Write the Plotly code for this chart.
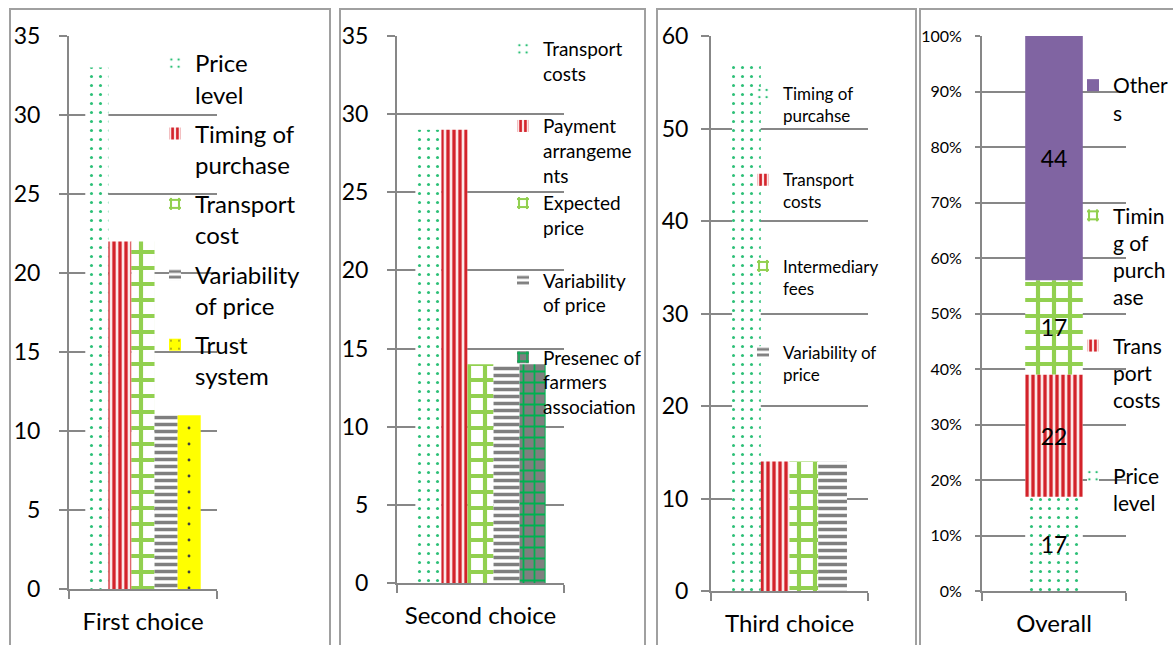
import plotly.graph_objects as go

W, H = 1173, 645

# ---------------- data ----------------
choice_names = ["First choice", "Second choice", "Third choice", "Overall"]

first_labels = ["Price<br>level", "Timing of<br>purchase", "Transport<br>cost",
                "Variability<br>of price", "Trust<br>system"]
first_values = [33, 22, 22, 11, 11]

second_labels = ["Transport<br>costs", "Payment<br>arrangeme<br>nts", "Expected<br>price",
                 "Variability<br>of price", "Presenec of<br>farmers<br>association"]
second_values = [29, 29, 14, 14, 14]

third_labels = ["Timing of<br>purcahse", "Transport<br>costs", "Intermediary<br>fees",
                "Variability of<br>price"]
third_values = [57, 14, 14, 14]

overall_labels = ["Price<br>level", "Trans<br>port<br>costs", "Timin<br>g of<br>purch<br>ase",
                  "Other<br>s"]
overall_values = [17, 22, 17, 44]

y_max = [35, 35, 60, 100]
y_step = [5, 5, 10, 10]

# ---------------- styling ----------------
first_fills = ["dots", "stripes", "checks", "hlines", "yellow"]
second_fills = ["dots", "stripes", "checks", "hlines", "brick"]
third_fills = ["dots", "stripes", "checks", "hlines"]
overall_fills = ["dots", "stripes", "checks", "purple"]


def pat(shape, fg, bg, size, solidity):
    return dict(color=bg, pattern=dict(shape=shape, fgcolor=fg, fgopacity=1, size=size,
                                       solidity=solidity, fillmode="overlay"))


FILLS = {
    "dots": pat(".", "#2cc077", "white", 9, 0.09),
    "stripes": pat("|", "#d3222a", "#fbe8e8", 6, 0.55),
    "checks": pat("+", "#92d050", "white", 16, 0.45),
    "hlines": pat("-", "#7f7f7f", "white", 7, 0.5),
    "yellow": pat(".", "#404040", "#ffff00", 16, 0.025),
    "brick": pat("+", "#00b050", "#7f7f7f", 11, 0.3),
    "purple": dict(color="#8064a2"),
}

FONT = "Lato"
GRID = "#878787"

# plot-area geometry (pixels) per panel: x-left, x-right, y-bottom, y-top
areas = [(69, 217, 589, 36), (397, 564, 583, 36), (711, 868, 591, 36), (982, 1126, 591, 36)]
# bar group geometry in category units: first offset, single bar width
bar_geom = [(-0.39, 0.156), (-0.39, 0.156), (-0.366, 0.183), (-0.2, 0.4)]
tick_font = [23, 23, 23, 16]
tick_standoff = [14, 14, 8, 10]
tick_len = [8, 8, 8, 5]

# legend settings per panel: left px, top px, font size, group gap, lines per entry
legend_cfg = [
    dict(x=155, y=41, size=24, gap=5, lines=2),
    dict(x=503, y=30, size=19, gap=0, lines=3),
    dict(x=743, y=76, size=17, gap=39, lines=2),
    dict(x=1073, y=65, size=21, gap=18, lines=4),
]
# panel 4 legend lists the stack from the top down
reverse_legend = [False, False, False, True]

panels = [
    (first_labels, first_values, first_fills),
    (second_labels, second_values, second_fills),
    (third_labels, third_values, third_fills),
    (overall_labels, overall_values, overall_fills),
]


def pad_lines(label, n):
    k = label.count("<br>") + 1
    return label + "<br>\u00a0" * max(0, n - k)


fig = go.Figure()

for p, (labels, values, fills) in enumerate(panels):
    k = p + 1
    sfx = "" if k == 1 else str(k)
    off0, bw = bar_geom[p]
    stacked = p == 3
    n = len(values)
    base = 0
    for i, (lab, val, fill) in enumerate(zip(labels, values, fills)):
        rank = (n - i) if reverse_legend[p] else (i + 1)
        last_in_legend = rank == n
        trace = dict(
            x=[choice_names[p]], y=[val],
            xaxis="x" + sfx, yaxis="y" + sfx,
            name=lab if last_in_legend else pad_lines(lab, legend_cfg[p]["lines"]),
            legend="legend" + sfx,
            legendgroup=f"p{k}_{i}",
            legendrank=rank,
            marker=dict(line=dict(width=0), **FILLS[fill]),
            hoverinfo="skip",
        )
        if stacked:
            trace.update(base=[base], offset=off0, width=bw,
                         text=[str(val)], textposition="inside",
                         insidetextanchor="middle", textangle=0,
                         textfont=dict(family=FONT, size=23, color="black"))
            base += val
        else:
            trace.update(offset=off0 + i * bw, width=bw)
        fig.add_trace(go.Bar(**trace))

layout = dict(
    template="none",
    width=W, height=H, margin=dict(l=0, r=0, t=0, b=0, autoexpand=False),
    paper_bgcolor="white", plot_bgcolor="white",
    barmode="overlay", showlegend=True,
    font=dict(family=FONT, color="black"),
)

for p, (xl, xr, yb, yt) in enumerate(areas):
    k = p + 1
    sfx = "" if k == 1 else str(k)
    layout["xaxis" + sfx] = dict(
        domain=[xl / W, xr / W], anchor="y" + sfx, type="category",
        range=[-0.5, 0.5], showgrid=False, zeroline=False, automargin=False,
        showline=True, linecolor=GRID, linewidth=2,
        ticks="outside", tickson="boundaries", ticklen=8, tickwidth=2, tickcolor=GRID,
        tickfont=dict(family=FONT, size=24, color="black"), ticklabelstandoff=10,
    )
    layout["yaxis" + sfx] = dict(
        domain=[1 - yb / H, 1 - yt / H], anchor="x" + sfx,
        range=[0, y_max[p]], dtick=y_step[p], tick0=0, automargin=False,
        showgrid=True, gridcolor=GRID, gridwidth=2, zeroline=False,
        showline=True, linecolor=GRID, linewidth=2,
        ticks="outside", ticklen=tick_len[p], tickwidth=2, tickcolor=GRID,
        ticksuffix="%" if p == 3 else "",
        tickfont=dict(family=FONT, size=tick_font[p], color="black"),
        ticklabelstandoff=tick_standoff[p],
    )
    cfg = legend_cfg[p]
    layout["legend" + sfx] = dict(
        x=cfg["x"] / W, y=1 - cfg["y"] / H, xanchor="left", yanchor="top",
        bgcolor="rgba(0,0,0,0)", borderwidth=0,
        font=dict(family=FONT, size=cfg["size"], color="black"),
        tracegroupgap=cfg["gap"], valign="top", traceorder="grouped",
    )

# panel frames
frames = [(10, 330), (340, 645), (657, 916), (920, 1180)]
layout["shapes"] = [
    dict(type="rect", xref="paper", yref="paper",
         x0=a / W, x1=b / W, y0=-0.05, y1=1 - 9 / H,
         line=dict(color="#a0a0a0", width=2), fillcolor="rgba(0,0,0,0)", layer="below")
    for a, b in frames
]

fig.update_layout(**layout)
fig.write_html("out.html")
